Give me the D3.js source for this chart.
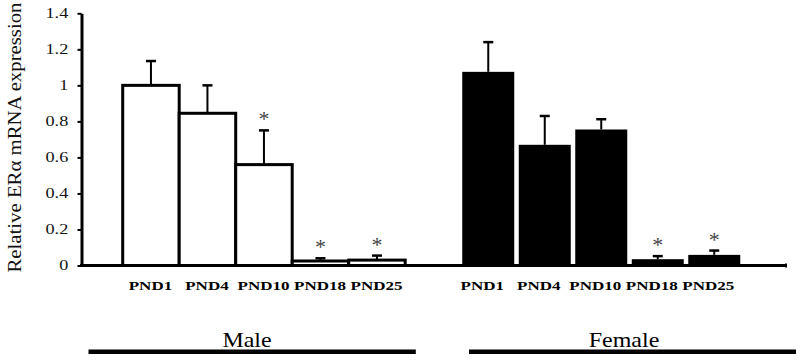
<!DOCTYPE html>
<html lang="en">
<head>
    <meta charset="UTF-8">
    <title>ERα mRNA expression</title>
    <script src="https://cdn.jsdelivr.net/npm/d3@7/dist/d3.min.js"></script>
    <style>
        body { margin: 0; background: #fff; }
        text { font-family: "Liberation Serif", "Times New Roman", serif; }
    </style>
</head>
<body>
<script>
    // data
    var categories = ["PND1", "PND4", "PND10", "PND18", "PND25"];
    var maleMean = [1.0, 0.845, 0.56, 0.025, 0.03];
    var maleErr = [0.135, 0.155, 0.19, 0.015, 0.025];
    var maleSig = [false, false, true, true, true];
    var femaleMean = [1.075, 0.67, 0.755, 0.035, 0.059];
    var femaleErr = [0.165, 0.16, 0.057, 0.017, 0.024];
    var femaleSig = [false, false, false, true, true];
    var yTicks = [0, 0.2, 0.4, 0.6, 0.8, 1, 1.2, 1.4];
    var yTickLabels = ["0", "0.2", "0.4", "0.6", "0.8", "1", "1.2", "1.4"];
    var groups = ["Male", "Female"];

    var width = 800, height = 361;
    var svg = d3.select("body").append("svg")
        .attr("width", width)
        .attr("height", height);

    // scales
    var y = d3.scaleLinear().domain([0, 1.4]).range([265.5, 13.3]);
    var xMale = d3.scaleBand().domain(categories).range([122.7, 405.2]).padding(0);
    var xFemale = d3.scaleBand().domain(categories).range([460, 742.5]).padding(0);
    var gap = 4.5; // white gap between female bars

    // y axis
    var yAxis = d3.axisLeft(y)
        .tickValues(yTicks)
        .tickFormat(function (d, i) { return yTickLabels[i]; })
        .tickSize(4)
        .tickSizeOuter(0);

    var gy = svg.append("g")
        .attr("transform", "translate(81.5,0)")
        .call(yAxis);
    gy.select(".domain").attr("stroke-width", 3);
    gy.selectAll(".tick line").attr("stroke-width", 2);
    gy.selectAll(".tick text")
        .attr("x", -10.2)
        .attr("font-size", 14)
        .attr("font-family", "'Liberation Serif', serif")
        .attr("fill", "#111")
        .attr("transform", "scale(1.3,1)");

    // y title
    svg.append("text")
        .attr("transform", "translate(20.5,137.5) rotate(-90)")
        .attr("text-anchor", "middle")
        .attr("font-size", 18.7)
        .attr("textLength", 270)
        .attr("lengthAdjust", "spacingAndGlyphs")
        .attr("fill", "#111")
        .text("Relative ERα mRNA expression");

    // baseline
    svg.append("line")
        .attr("x1", 80).attr("x2", 785)
        .attr("y1", y(0)).attr("y2", y(0))
        .attr("stroke", "#000").attr("stroke-width", 3);
    svg.append("line")
        .attr("x1", 785).attr("x2", 787)
        .attr("y1", y(0)).attr("y2", y(0))
        .attr("stroke", "#000").attr("stroke-width", 4);

    // error bars helper
    function drawErr(g, cx, mean, err) {
        g.append("line")
            .attr("x1", cx).attr("x2", cx)
            .attr("y1", y(mean)).attr("y2", y(mean + err))
            .attr("stroke", "#000").attr("stroke-width", 2);
        g.append("line")
            .attr("x1", cx - 5).attr("x2", cx + 5)
            .attr("y1", y(mean + err)).attr("y2", y(mean + err))
            .attr("stroke", "#000").attr("stroke-width", 2.5);
    }

    function drawStar(g, cx, mean, err) {
        g.append("text")
            .attr("x", cx)
            .attr("y", y(mean + err) - 15 + 11)
            .attr("text-anchor", "middle")
            .attr("font-size", 22)
            .attr("fill", "#444")
            .text("*");
    }

    // male bars
    var gm = svg.append("g");
    gm.selectAll("rect")
        .data(categories)
        .enter()
        .append("rect")
        .attr("x", function (d) { return xMale(d); })
        .attr("y", function (d, i) { return y(maleMean[i]); })
        .attr("width", xMale.bandwidth())
        .attr("height", function (d, i) { return y(0) - y(maleMean[i]); })
        .attr("fill", "#fff")
        .attr("stroke", "#000")
        .attr("stroke-width", 3);

    categories.forEach(function (c, i) {
        var cx = xMale(c) + xMale.bandwidth() / 2;
        drawErr(gm, cx, maleMean[i], maleErr[i]);
        if (maleSig[i]) drawStar(gm, cx, maleMean[i], maleErr[i]);
    });

    // female bars
    var gf = svg.append("g");
    gf.selectAll("rect")
        .data(categories)
        .enter()
        .append("rect")
        .attr("x", function (d) { return xFemale(d) + gap / 2; })
        .attr("y", function (d, i) { return y(femaleMean[i]); })
        .attr("width", xFemale.bandwidth() - gap)
        .attr("height", function (d, i) { return y(0) - y(femaleMean[i]); })
        .attr("fill", "#000");

    categories.forEach(function (c, i) {
        var cx = xFemale(c) + xFemale.bandwidth() / 2;
        drawErr(gf, cx, femaleMean[i], femaleErr[i]);
        if (femaleSig[i]) drawStar(gf, cx, femaleMean[i], femaleErr[i]);
    });

    // category labels
    function catLabels(scale, shift) {
        svg.append("g").selectAll("text")
            .data(categories)
            .enter()
            .append("text")
            .attr("transform", function (d) {
                var cx = scale(d) + scale.bandwidth() / 2 + shift;
                return "translate(" + cx + ",290) scale(1.36,1)";
            })
            .attr("text-anchor", "middle")
            .attr("font-size", 12.5)
            .attr("font-weight", "bold")
            .attr("fill", "#000")
            .text(function (d) { return d; });
    }
    catLabels(xMale, -0.5);
    catLabels(xFemale, -6);

    // group labels and underlines
    var groupSpan = [[88.5, 415.8, 247], [469, 796, 624]];
    groups.forEach(function (g, i) {
        svg.append("line")
            .attr("x1", groupSpan[i][0]).attr("x2", groupSpan[i][1])
            .attr("y1", 351.7).attr("y2", 351.7)
            .attr("stroke", "#000").attr("stroke-width", 4.5);
        svg.append("text")
            .attr("transform", "translate(" + groupSpan[i][2] + ",347.3) scale(1.09,1)")
            .attr("text-anchor", "middle")
            .attr("font-size", 22)
            .attr("fill", "#000")
            .text(g);
    });
</script>
</body>
</html>
